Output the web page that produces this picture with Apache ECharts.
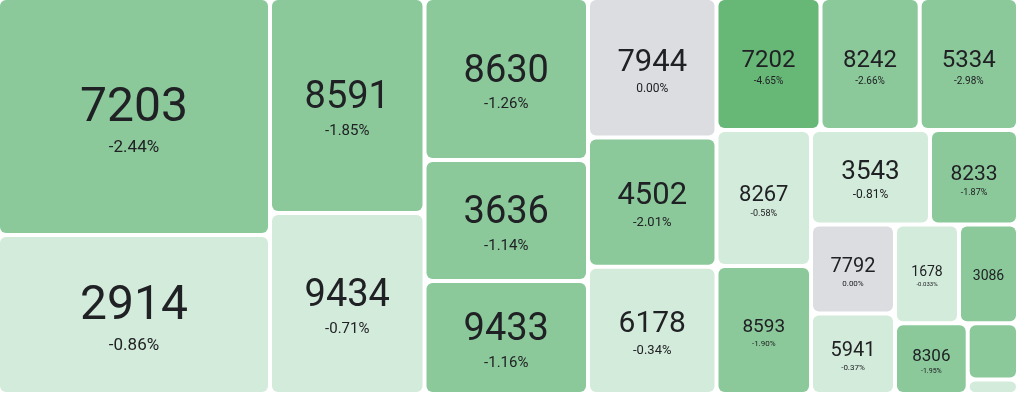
<!DOCTYPE html>
<html><head><meta charset="utf-8">
<script src="https://cdn.jsdelivr.net/npm/echarts@6/dist/echarts.min.js"></script>
<style>html,body{margin:0;padding:0;background:#fff}#c{width:1018px;height:393px}</style>
</head><body><div id="c"></div>
<script>
// ---- data ----
const names = ['7203','2914','8591','9434','8630','3636','9433','7944','4502','6178','7202','8242','5334','8267','8593','3543','8233','7792','5941','1678','3086','8306','',''];
const values = [64464, 43248, 33218, 27965, 26487, 19784, 18476, 17926, 16615, 16345, 13728, 13094, 12976, 12852, 12096, 11246, 8316, 7476, 6762, 6323, 5829, 5140, 2827, 729];
const changes = [-2.44, -0.86, -1.85, -0.71, -1.26, -1.14, -1.16, 0.00, -2.01, -0.34, -4.65, -2.66, -2.98, -0.58, -1.90, -0.81, -1.87, 0.00, -0.37, -0.033, -1.5, -1.95, -1.5, -0.5];
const changeText = ['-2.44%','-0.86%','-1.85%','-0.71%','-1.26%','-1.14%','-1.16%','0.00%','-2.01%','-0.34%','-4.65%','-2.66%','-2.98%','-0.58%','-1.90%','-0.81%','-1.87%','0.00%','-0.37%','-0.033%','','-1.95%','',''];

// ---- styles ----
const nameSizes = {'7203':48,'2914':48,'8591':38,'9434':38,'8630':38,'3636':38,'9433':38,'7944':31,'4502':31,'6178':30,'7202':24,'8242':24,'5334':24,'8267':22,'8593':19,'3543':26,'8233':21,'7792':20,'5941':20,'1678':14,'3086':14,'8306':17};
const pctSizes = {'7203':17,'2914':17,'8591':15,'9434':15,'8630':15,'3636':15,'9433':15,'7944':12,'4502':13,'6178':13,'7202':10,'8242':10,'5334':10,'8267':9,'8593':8,'3543':12,'8233':9,'7792':8,'5941':8,'1678':6,'3086':6,'8306':7};
const TXT = '#202124';
const LH = 1.2;
function colorFor(v){
  if (v === 0) return '#dcdde1';
  if (v > -1) return '#d3ebda';
  if (v > -3) return '#8bc99b';
  return '#67b777';
}
const data = names.map((n, i) => {
  const item = { name: n, value: values[i], itemStyle: { color: colorFor(changes[i]) } };
  const fs = nameSizes[n];
  if (!fs) { item.label = { show: false }; return item; }
  const ps = pctSizes[n];
  const nLH = Math.round(fs * LH), pLH = Math.round(ps * LH);
  const hasPct = !!changeText[i];
  const contentH = nLH + (hasPct ? pLH : 0);
  item.label = {
    show: true,
    position: ['50%', '50%'],
    align: 'center',
    verticalAlign: 'top',
    offset: [0, -contentH / 2 + 2.5],
    formatter: hasPct ? '{n|' + n + '}\n{p|' + changeText[i] + '}' : '{n|' + n + '}',
    rich: {
      n: { fontSize: fs, lineHeight: nLH, color: TXT, fontFamily: 'Roboto', align: 'center' },
      p: { fontSize: ps, lineHeight: pLH, color: TXT, fontFamily: 'Roboto', align: 'center' }
    }
  };
  return item;
});

const chart = echarts.init(document.getElementById('c'), null, { renderer: 'canvas' });
chart.setOption({
  animation: false,
  series: [{
    type: 'treemap',
    left: 0, top: 0, width: 1016, height: 392,
    roam: false, nodeClick: false,
    squareRatio: 1,
    breadcrumb: { show: false },
    itemStyle: { gapWidth: 4, borderWidth: 0, borderRadius: 6, borderColor: '#fff' },
    label: { show: true, overflow: 'none', padding: 0 },
    upperLabel: { show: false },
    data: data
  }]
});
</script></body></html>
